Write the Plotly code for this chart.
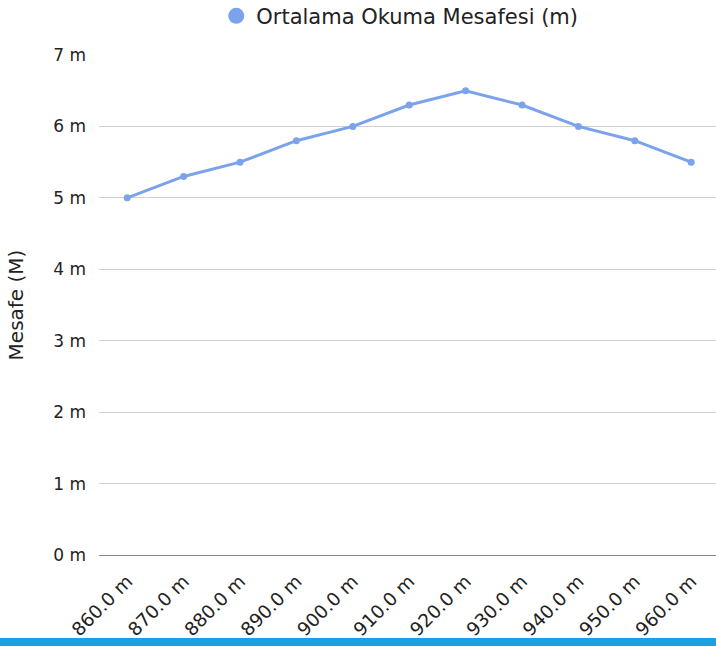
import plotly.graph_objects as go

categories = ["860.0 m", "870.0 m", "880.0 m", "890.0 m", "900.0 m", "910.0 m",
              "920.0 m", "930.0 m", "940.0 m", "950.0 m", "960.0 m"]
values = [5.0, 5.3, 5.5, 5.8, 6.0, 6.3, 6.5, 6.3, 6.0, 5.8, 5.5]
series_name = "Ortalama Okuma Mesafesi (m)"
y_ticks = [0, 1, 2, 3, 4, 5, 6, 7]
y_tick_labels = [f"{v} m" for v in y_ticks]

color = "#7BA3EB"
font = "DejaVu Sans"

fig = go.Figure()
fig.add_trace(go.Scatter(
    x=categories, y=values, mode="lines+markers",
    line=dict(color=color, width=3), marker=dict(color=color, size=7),
    showlegend=False, hoverinfo="x+y",
))
fig.add_trace(go.Scatter(
    x=[categories[0]], y=[None], mode="markers", name=series_name,
    marker=dict(color=color, size=20), showlegend=True,
))

fig.update_layout(
    width=716, height=646,
    margin=dict(l=99, r=0, t=55, b=91),
    paper_bgcolor="white", plot_bgcolor="white",
    font=dict(family=font, size=16, color="#222"),
    legend=dict(orientation="h", xref="container", x=0.302, xanchor="left",
                yref="container", y=0.975, yanchor="middle", itemwidth=30,
                font=dict(size=21, color="#222")),
    xaxis=dict(type="category", range=[-0.5, 10.44], tickangle=-45,
               showgrid=False, showline=False, ticks="", zeroline=False,
               tickfont=dict(size=18.5), ticklabelstandoff=11),
    yaxis=dict(range=[0, 7], tickvals=y_ticks, ticktext=y_tick_labels,
               showgrid=True, gridcolor="#d0d0d0", gridwidth=1,
               zeroline=True, zerolinecolor="#888", zerolinewidth=1,
               ticks="", tickfont=dict(size=17), ticklabelstandoff=12,
               title=dict(text="Mesafe (M)", font=dict(size=20), standoff=24)),
    shapes=[dict(type="rect", xref="paper", yref="paper", x0=-0.2, x1=1.1,
                 y0=-0.182, y1=-0.166, fillcolor="#1BA1E2", line=dict(width=0), layer="above")],
)

fig.write_html("out.html", config={"displayModeBar": False},
               post_script="document.body.style.margin='0';document.body.style.overflow='hidden';")
